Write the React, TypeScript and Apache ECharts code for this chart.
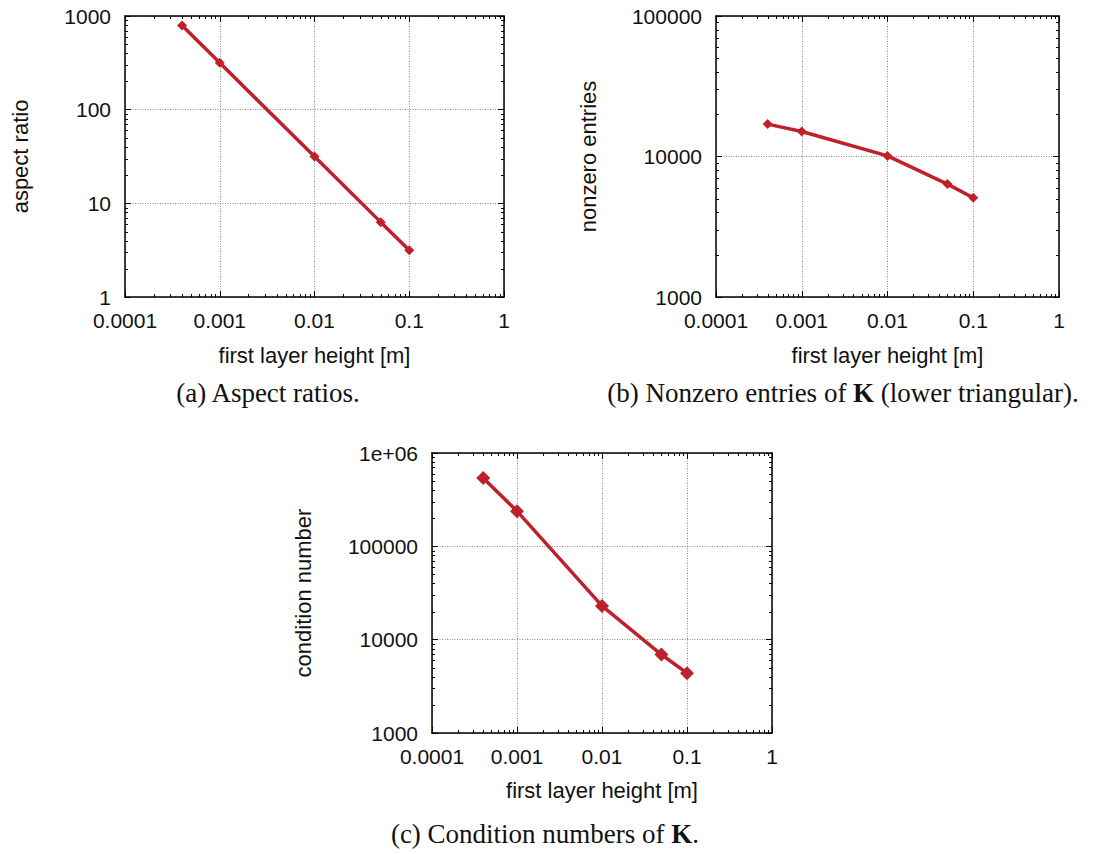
import React, { useEffect, useRef } from 'react';
import * as echarts from 'echarts';

// ---- data ----
const heights = [0.0004, 0.001, 0.01, 0.05, 0.1];
const aspectRatios = [790, 316, 31.6, 6.3, 3.16];
const nonzeroEntries = [17000, 15050, 10100, 6360, 5080];
const conditionNumbers = [541000, 238000, 23000, 6930, 4380];

// tick labels (decade exponent -> label)
const xTickLabels = ['0.0001', '0.001', '0.01', '0.1', '1']; // exponents -4..0
const yTickLabelsA = ['1', '10', '100', '1000']; // 0..3
const yTickLabelsB = ['1000', '10000', '100000']; // 3..5
const yTickLabelsC = ['1000', '10000', '100000', '1e+06']; // 3..6

const minorMantissas = [2, 3, 4, 5, 6, 7, 8, 9];

const captions = [
  '(a) Aspect ratios.',
  '(b) Nonzero entries of {b|K} (lower triangular).',
  '(c) Condition numbers of {b|K}.',
];
const yNames = ['aspect ratio', 'nonzero entries', 'condition number'];
const xName = 'first layer height [m]';

const RED = '#c0202a';
const SANS = '"Liberation Sans", Arial, Helvetica, sans-serif';
const SERIF = '"Liberation Serif", "Times New Roman", serif';

function minorList(minExp: number, maxExp: number): number[] {
  const out: number[] = [];
  for (let e = minExp; e < maxExp; e++) {
    for (const m of minorMantissas) out.push(parseFloat((m * Math.pow(10, e)).toPrecision(6)));
  }
  return out;
}

type Panel = {
  grid: { left: number; top: number; width: number; height: number };
  yMinExp: number;
  yMaxExp: number;
  yLabels: string[];
  values: number[];
  symbolSize: number;
  yNameGap: number;
  xNameGap: number;
};

const panels: Panel[] = [
  { grid: { left: 125, top: 16, width: 379, height: 281 }, yMinExp: 0, yMaxExp: 3, yLabels: yTickLabelsA, values: aspectRatios, symbolSize: 10, yNameGap: 94, xNameGap: 47 },
  { grid: { left: 716, top: 16, width: 343, height: 281 }, yMinExp: 3, yMaxExp: 5, yLabels: yTickLabelsB, values: nonzeroEntries, symbolSize: 10, yNameGap: 117, xNameGap: 47 },
  { grid: { left: 432, top: 453, width: 340, height: 280 }, yMinExp: 3, yMaxExp: 6, yLabels: yTickLabelsC, values: conditionNumbers, symbolSize: 14, yNameGap: 118, xNameGap: 46 },
];

const X_MIN_EXP = -4;
const X_MAX_EXP = 0;

export default function App() {
  const ref = useRef<HTMLDivElement>(null);

  useEffect(() => {
    if (!ref.current) return;
    const chart = echarts.init(ref.current, null, { renderer: 'svg' });

    const grids: any[] = [];
    const xAxes: any[] = [];
    const yAxes: any[] = [];
    const series: any[] = [];

    const axisLine = { show: true, lineStyle: { color: '#000', width: 1.5 } };
    const majorTick = { show: true, inside: true, length: 6, lineStyle: { color: '#000', width: 1 } };
    const splitLine = { show: true, lineStyle: { color: '#8a8a8a', width: 1, type: [1, 1.5] } };

    panels.forEach((p, i) => {
      grids.push({ ...p.grid, containLabel: false });
      const xMin = Math.pow(10, X_MIN_EXP);
      const xMax = Math.pow(10, X_MAX_EXP);
      const yMin = Math.pow(10, p.yMinExp);
      const yMax = Math.pow(10, p.yMaxExp);

      // bottom x
      xAxes.push({
        type: 'log', logBase: 10, gridIndex: i, position: 'bottom',
        min: xMin, max: xMax, splitNumber: X_MAX_EXP - X_MIN_EXP,
        axisLine, axisTick: majorTick, splitLine,
        axisLabel: {
          show: true, margin: 13, fontSize: 21, color: '#111', fontFamily: SANS,
          formatter: (v: number) => xTickLabels[Math.round(Math.log10(v)) - X_MIN_EXP] ?? '',
        },
        name: xName, nameLocation: 'middle', nameGap: p.xNameGap,
        nameTextStyle: { fontSize: 22, color: '#111', fontFamily: SANS },
      });
      // top x (mirror)
      xAxes.push({
        type: 'log', logBase: 10, gridIndex: i, position: 'top',
        min: xMin, max: xMax, splitNumber: X_MAX_EXP - X_MIN_EXP,
        axisLine, axisTick: majorTick, splitLine: { show: false }, axisLabel: { show: false },
      });
      // left y
      yAxes.push({
        type: 'log', logBase: 10, gridIndex: i, position: 'left',
        min: yMin, max: yMax, splitNumber: p.yMaxExp - p.yMinExp,
        axisLine, axisTick: majorTick, splitLine,
        axisLabel: {
          show: true, margin: 14, fontSize: 21, color: '#111', fontFamily: SANS,
          formatter: (v: number) => p.yLabels[Math.round(Math.log10(v)) - p.yMinExp] ?? '',
        },
        name: yNames[i], nameLocation: 'middle', nameGap: p.yNameGap, nameRotate: 90,
        nameTextStyle: { fontSize: 22, color: '#111', fontFamily: SANS },
      });
      // right y (mirror)
      yAxes.push({
        type: 'log', logBase: 10, gridIndex: i, position: 'right',
        min: yMin, max: yMax, splitNumber: p.yMaxExp - p.yMinExp,
        axisLine, axisTick: majorTick, splitLine: { show: false }, axisLabel: { show: false },
      });

      const xi = i * 2;
      const yi = i * 2;

      // minor ticks on x (bottom & top)
      series.push({
        type: 'custom', xAxisIndex: xi, yAxisIndex: yi, silent: true, z: 5, clip: false,
        data: minorList(X_MIN_EXP, X_MAX_EXP).map((v) => [v, yMin]),
        renderItem: (params: any, api: any) => {
          const cs = params.coordSys;
          const pt = api.coord([api.value(0), api.value(1)]);
          const x = Math.round(pt[0]) + 0.5;
          return {
            type: 'group',
            children: [
              { type: 'line', shape: { x1: x, y1: cs.y + cs.height, x2: x, y2: cs.y + cs.height - 3 }, style: { stroke: '#000', lineWidth: 1 } },
              { type: 'line', shape: { x1: x, y1: cs.y, x2: x, y2: cs.y + 3 }, style: { stroke: '#000', lineWidth: 1 } },
            ],
          };
        },
      });
      // minor ticks on y (left & right)
      series.push({
        type: 'custom', xAxisIndex: xi, yAxisIndex: yi, silent: true, z: 5, clip: false,
        data: minorList(p.yMinExp, p.yMaxExp).map((v) => [xMin, v]),
        renderItem: (params: any, api: any) => {
          const cs = params.coordSys;
          const pt = api.coord([api.value(0), api.value(1)]);
          const y = Math.round(pt[1]) + 0.5;
          return {
            type: 'group',
            children: [
              { type: 'line', shape: { x1: cs.x, y1: y, x2: cs.x + 3, y2: y }, style: { stroke: '#000', lineWidth: 1 } },
              { type: 'line', shape: { x1: cs.x + cs.width, y1: y, x2: cs.x + cs.width - 3, y2: y }, style: { stroke: '#000', lineWidth: 1 } },
            ],
          };
        },
      });

      // data line
      series.push({
        type: 'line', xAxisIndex: xi, yAxisIndex: yi, z: 10,
        data: heights.map((h, k) => [h, p.values[k]]),
        symbol: 'diamond', symbolSize: p.symbolSize, showSymbol: true,
        lineStyle: { color: RED, width: 3.5 },
        itemStyle: { color: RED },
      });
    });

    const capStyle = (text: string, x: number, y: number) => ({
      type: 'text', x, y,
      style: {
        text, fill: '#111', fontSize: 27, fontFamily: SERIF,
        align: 'center', verticalAlign: 'middle',
        rich: { b: { fontSize: 27, fontFamily: SERIF, fontWeight: 'bold', fill: '#111' } },
      },
    });

    chart.setOption({
      animation: false,
      backgroundColor: '#fff',
      grid: grids,
      xAxis: xAxes,
      yAxis: yAxes,
      series,
      graphic: [
        capStyle(captions[0], 268, 393),
        capStyle(captions[1], 843, 393),
        capStyle(captions[2], 545, 834),
      ],
    });

    return () => chart.dispose();
  }, []);

  return <div ref={ref} style={{ position: 'absolute', left: 0, top: 0, width: 1097, height: 854 }} />;
}
